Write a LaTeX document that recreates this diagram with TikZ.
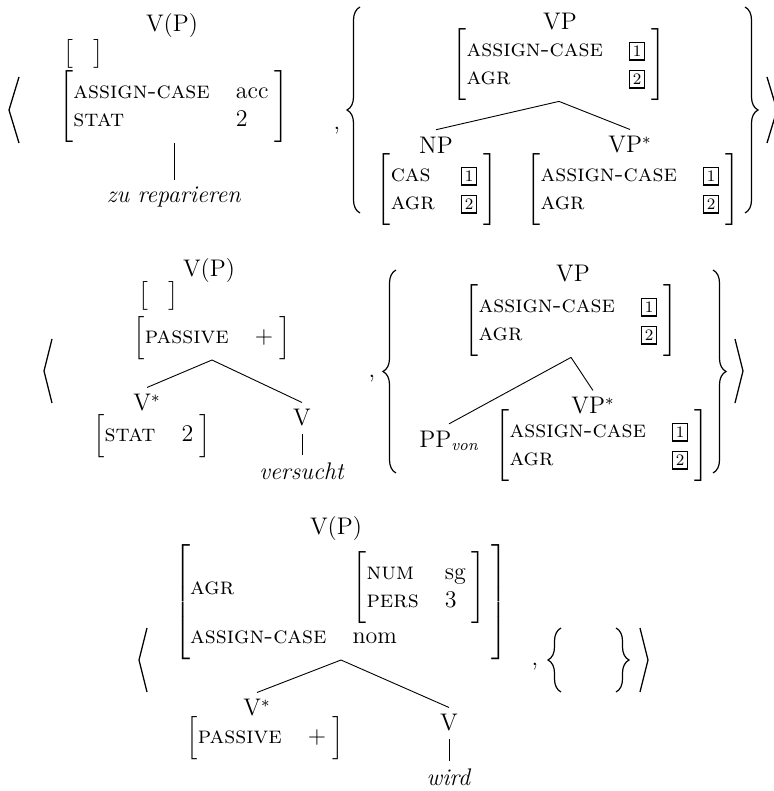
\documentclass[tikz,border=0pt]{standalone}
\usepackage{amsmath}
\usepackage{tikz}
\usetikzlibrary{decorations.pathreplacing}

\delimiterfactor=1001
\setlength{\delimitershortfall}{-3pt}
\renewcommand{\arraystretch}{1.0}
\newcommand{\fstr}[1]{$\left[\begin{tabular}{@{}l@{\hspace{13pt}}l@{\hspace{3pt}}}#1\end{tabular}\right]$}
\newcommand{\boxnum}[1]{{\setlength{\fboxsep}{1.3pt}\setlength{\fboxrule}{0.7pt}\fbox{\footnotesize #1}}}
\newcommand{\emptyfs}{{\setlength{\delimitershortfall}{0pt}$\left[\vcenter{\hbox{\rule{0pt}{13pt}}}\hspace{10pt}\right]$}}

\begin{document}
\begin{tikzpicture}[x=0.5pt,y=-0.5pt,every node/.style={font=\large},
  avm/.style={inner sep=0pt},branch/.style={line width=0.45pt},
  chevron/.style={line width=0.65pt},
  setbrace/.style={line width=0.6pt,decorate,decoration={brace,amplitude=6.5pt}}]
\useasboundingbox (0,0) rectangle (773,791);
% first pair
\draw[chevron] (19,77) -- (9,110) -- (19,143);
\node (vp1) at (172,26) {V(P)};
\node[avm] (a1) at (174,107) {\fstr{\textsc{assign-case} & acc\\ \textsc{stat} & 2}};
\node[avm,anchor=west] (e1) at (63,54) {\emptyfs};
\node (zu) at (174,197) {\textit{zu reparieren}};
\draw[branch] (a1.south) -- (zu.north);
\node (c1) at (337,131) {,};
\draw[setbrace] (360,213) -- (360,7);
\node (vp2) at (560,22) {VP};
\node[avm] (a2) at (559,65) {\fstr{\textsc{assign-case} & \boxnum{1}\\ \textsc{agr} & \boxnum{2}}};
\node (np1) at (436,145) {NP};
\node (vps1) at (630,145) {VP$^*$};
\node[avm] (a3) at (437,190) {\fstr{\textsc{cas} & \boxnum{1}\\ \textsc{agr} & \boxnum{2}}};
\node[avm] (a4) at (633,190) {\fstr{\textsc{assign-case} & \boxnum{1}\\ \textsc{agr} & \boxnum{2}}};
\draw[branch] (a2.south) -- (np1.north);
\draw[branch] (a2.south) -- (vps1.north);
\draw[setbrace] (745,7) -- (745,213);
\draw[chevron] (767,77) -- (777,110) -- (767,143);
% second pair
\draw[chevron] (52,339) -- (44,371) -- (52,403);
\node (vp3) at (209,271) {V(P)};
\node[avm] (a5) at (212,338) {\fstr{\textsc{passive} & +}};
\node[avm,anchor=west] (e2) at (138,296) {\emptyfs};
\node (vs2) at (147,403) {V$^*$};
\node[avm] (a6) at (152,436) {\fstr{\textsc{stat} & 2}};
\node (v2) at (302,418) {V};
\node (vers) at (302,471) {\textit{versucht}};
\draw[branch] (a5.south) -- (vs2.north);
\draw[branch] (a5.south) -- (v2.north);
\draw[branch] (v2.south) -- (vers.north);
\node (c2) at (372,379) {,};
\draw[setbrace] (396,473) -- (396,270);
\node (vp4) at (573,274) {VP};
\node[avm] (a7) at (571,321) {\fstr{\textsc{assign-case} & \boxnum{1}\\ \textsc{agr} & \boxnum{2}}};
\node (vps2) at (593,406) {VP$^*$};
\node (pp) at (449,441) {PP$_{\textit{von}}$};
\node[avm] (a8) at (602,446) {\fstr{\textsc{assign-case} & \boxnum{1}\\ \textsc{agr} & \boxnum{2}}};
\draw[branch] (a7.south) -- (pp.north);
\draw[branch] (a7.south) -- (vps2.north);
\draw[setbrace] (713,270) -- (713,473);
\draw[chevron] (735,339) -- (743,371) -- (735,403);
% third pair
\draw[chevron] (147,628) -- (139,660) -- (147,692);
\node (vp5) at (336,529) {V(P)};
\node[avm] (a9) at (341,602) {\fstr{\textsc{agr} & \fstr{\textsc{num} & sg\\ \textsc{pers} & 3}\\ \textsc{assign-case} & nom}};
\node (vs3) at (257,708) {V$^*$};
\node[avm] (a10) at (265,738) {\fstr{\textsc{passive} & +}};
\node (v3) at (449,723) {V};
\node (wird) at (449,777) {\textit{wird}};
\draw[branch] (a9.south) -- (vs3.north);
\draw[branch] (a9.south) -- (v3.north);
\draw[branch] (v3.south) -- (wird.north);
\node (c3) at (535,667) {,};
\draw[setbrace] (561,692) -- (561,628);
\draw[setbrace] (616,628) -- (616,692);
\draw[chevron] (640,628) -- (648,660) -- (640,692);
\end{tikzpicture}
\end{document}
